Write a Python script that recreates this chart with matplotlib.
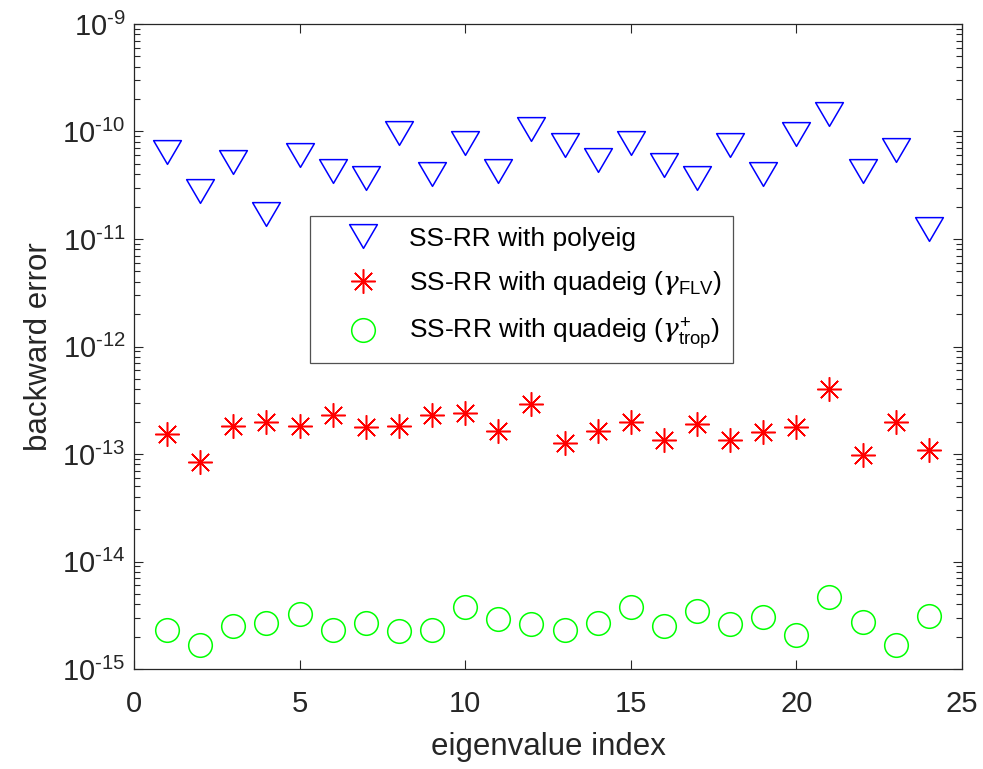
import numpy as np
import matplotlib
matplotlib.use("Agg")
import matplotlib.pyplot as plt
from matplotlib.path import Path
from matplotlib.ticker import LogLocator, NullFormatter, FuncFormatter

plt.rcParams['font.family'] = ['Liberation Sans', 'DejaVu Sans']
plt.rcParams['mathtext.fontset'] = 'custom'
plt.rcParams['mathtext.rm'] = 'Liberation Sans'
plt.rcParams['mathtext.it'] = 'DejaVu Serif:italic'
plt.rcParams['axes.unicode_minus'] = False

idx = np.arange(1, 25)

# backward errors per eigenvalue
err_polyeig = [6.5e-11, 2.77e-11, 5.16e-11, 1.71e-11, 6.04e-11, 4.32e-11,
               3.72e-11, 9.7e-11, 4.02e-11, 7.75e-11, 4.32e-11, 1.05e-10,
               7.54e-11, 5.41e-11, 7.81e-11, 4.86e-11, 3.73e-11, 7.5e-11,
               4.02e-11, 9.4e-11, 1.46e-10, 4.32e-11, 6.73e-11, 1.23e-11]
err_flv = [1.52e-13, 8.43e-14, 1.84e-13, 1.99e-13, 1.84e-13, 2.29e-13,
           1.77e-13, 1.84e-13, 2.29e-13, 2.39e-13, 1.64e-13, 2.90e-13,
           1.27e-13, 1.65e-13, 1.99e-13, 1.36e-13, 1.90e-13, 1.36e-13,
           1.59e-13, 1.77e-13, 4.03e-13, 9.8e-14, 1.99e-13, 1.09e-13]
err_trop = [2.33e-15, 1.67e-15, 2.52e-15, 2.69e-15, 3.27e-15, 2.33e-15,
            2.69e-15, 2.25e-15, 2.33e-15, 3.79e-15, 2.91e-15, 2.64e-15,
            2.33e-15, 2.69e-15, 3.79e-15, 2.51e-15, 3.48e-15, 2.63e-15,
            3.03e-15, 2.08e-15, 4.70e-15, 2.71e-15, 1.67e-15, 3.13e-15]

labels = ['SS-RR with polyeig',
          r'SS-RR with quadeig ($\gamma_{\rm FLV}$)',
          r'SS-RR with quadeig ($\gamma^{+}_{\rm trop}$)']

dark = '#262626'

# wide, slightly flat downward triangle
tri = Path([(-1.17, 1.0), (1.17, 1.0), (0.0, -1.0), (-1.17, 1.0)], closed=True)


def pow10(v, pos):
    e = int(round(np.log10(v)))
    if e < 0:
        return r'$10^{\text{-}%d}$' % (-e)
    return r'$10^{%d}$' % e


fig = plt.figure(figsize=(9.83, 7.69), dpi=100)
ax = fig.add_axes([0.1363, 0.130, 0.8423, 0.8388])

ax.semilogy(idx, err_polyeig, linestyle='none', marker=tri, markersize=20,
            markerfacecolor='none', markeredgecolor='#0000ff', markeredgewidth=1.1,
            label=labels[0])
ax.semilogy(idx, err_flv, linestyle='none', marker=(8, 2, 0), markersize=17.5,
            markeredgecolor='#ff0000', markeredgewidth=1.1, label=labels[1])
ax.semilogy(idx, err_trop, linestyle='none', marker='o', markersize=17,
            markerfacecolor='none', markeredgecolor='#00ff00', markeredgewidth=1.1,
            label=labels[2])

ax.set_xlim(0, 25)
ax.set_ylim(1e-15, 1e-9)
ax.set_xticks([0, 5, 10, 15, 20, 25])
ax.yaxis.set_major_locator(LogLocator(base=10, numticks=10))
ax.yaxis.set_major_formatter(FuncFormatter(pow10))
ax.yaxis.set_minor_locator(LogLocator(base=10, subs=np.arange(2, 10), numticks=20))
ax.yaxis.set_minor_formatter(NullFormatter())

ax.tick_params(which='both', direction='in', top=True, right=True,
               color=dark, labelcolor=dark, labelsize=21, width=0.8)
ax.tick_params(which='major', length=6.5)
ax.tick_params(which='minor', length=4)
ax.tick_params(axis='x', pad=15)
ax.tick_params(axis='y', pad=6)
for s in ax.spines.values():
    s.set_color(dark)
    s.set_linewidth(0.9)

ax.set_xlabel('eigenvalue index', fontsize=22.5, color=dark, labelpad=10)
ax.set_ylabel('backward error', fontsize=22.5, color=dark, labelpad=6)

leg = ax.legend(loc='upper left', bbox_to_anchor=(0.2126, 0.7023),
                borderaxespad=0, fontsize=19, frameon=True, fancybox=False,
                handlelength=3.2, handletextpad=0.17, labelspacing=0.7,
                borderpad=0.4)
leg.get_frame().set_edgecolor(dark)
leg.get_frame().set_linewidth(0.9)
for t in leg.get_texts():
    t.set_color('black')

fig.savefig('out.png', dpi=100)
